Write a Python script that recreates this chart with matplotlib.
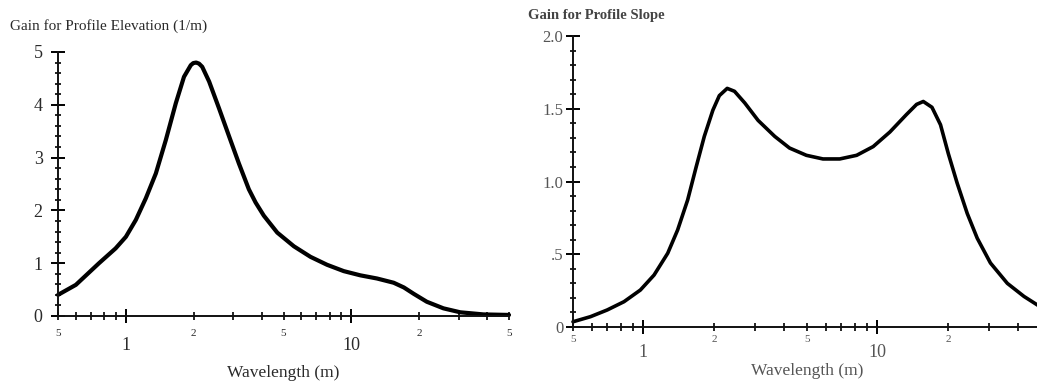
import matplotlib.pyplot as plt

# gain curves read along the wavelength axis (m)
elev_wavelength = [0.5, 0.6, 0.76, 0.9, 1.0, 1.107, 1.226, 1.358, 1.503, 1.665, 1.81, 1.94, 1.99, 2.05,
                   2.11, 2.18, 2.34, 2.59, 2.87, 3.17, 3.51, 3.76, 4.09, 4.69, 5.56, 6.59, 7.8, 9.25,
                   10.96, 13.0, 15.4, 17.1, 18.9, 21.6, 25.6, 30.4, 38.5, 50.0]
elev_gain = [0.40, 0.59, 1.00, 1.28, 1.50, 1.82, 2.23, 2.70, 3.33, 4.03, 4.53, 4.75, 4.79, 4.80,
             4.78, 4.72, 4.44, 3.93, 3.40, 2.89, 2.40, 2.15, 1.90, 1.58, 1.32, 1.12, 0.97, 0.85,
             0.77, 0.71, 0.63, 0.54, 0.42, 0.27, 0.145, 0.07, 0.03, 0.02]

slope_wavelength = [0.5, 0.594, 0.70, 0.826, 0.97, 1.11, 1.27, 1.40, 1.545, 1.68, 1.82, 1.98, 2.11,
                    2.28, 2.45, 2.71, 3.09, 3.64, 4.21, 4.97, 5.85, 6.9, 8.15, 9.59, 11.3, 13.3,
                    14.7, 15.7, 17.1, 18.6, 20.1, 21.9, 24.2, 26.7, 30.4, 35.9, 42.3, 48.4, 50.0]
slope_gain = [0.036, 0.071, 0.117, 0.174, 0.254, 0.357, 0.507, 0.667, 0.873, 1.10, 1.31, 1.49, 1.59,
              1.64, 1.62, 1.54, 1.42, 1.31, 1.23, 1.18, 1.155, 1.155, 1.18, 1.24, 1.34, 1.46,
              1.53, 1.55, 1.51, 1.39, 1.19, 0.99, 0.78, 0.61, 0.44, 0.30, 0.21, 0.15, 0.14]

minor_x = [0.5, 0.6, 0.7, 0.8, 0.9, 2, 3, 4, 5, 6, 7, 8, 9, 20, 30, 40, 50]
elev_minor_labels = ['5', '', '', '', '', '2', '', '', '5', '', '', '', '', '2', '', '', '5']
slope_minor_labels = ['5', '', '', '', '', '2', '', '', '5', '', '', '', '', '2', '', '', '']
major_x = [1, 10]
major_x_labels = ['1', '10']

elev_yticks = [0, 1, 2, 3, 4, 5]
slope_yticks = [0, 0.5, 1.0, 1.5, 2.0]
slope_ylabels = ['0', '.5', '1.0', '1.5', '2.0']

plt.rcParams['font.family'] = ['Liberation Serif', 'DejaVu Serif']

W, H = 1037, 384
fig = plt.figure(figsize=(W / 100, H / 100), dpi=100)


def px_axes(x0, x1, y_top, y_bottom):
    return fig.add_axes([x0 / W, 1 - y_bottom / H, (x1 - x0) / W, (y_bottom - y_top) / H])


def style(ax, color, ymax, yminor_step, minor_labels, major_pad, minor_pad, ypad, ysize, xlabelpad):
    ax.set_xscale('log')
    ax.set_xlim(0.5, 50)
    ax.set_ylim(0, ymax)
    for s in ['top', 'right']:
        ax.spines[s].set_visible(False)
    for s in ['left', 'bottom']:
        ax.spines[s].set_linewidth(1.4)
        ax.spines[s].set_color('#111111')
    ax.set_xticks(major_x, labels=major_x_labels)
    ax.set_xticks(minor_x, labels=minor_labels, minor=True)
    n = int(round(ymax / yminor_step))
    ax.set_yticks([i * yminor_step for i in range(n + 1)], minor=True)
    ax.tick_params(axis='x', which='major', direction='inout', length=10, width=1.4,
                   pad=major_pad, labelsize=13, labelcolor=color)
    ax.tick_params(axis='x', which='minor', direction='inout', length=6, width=1.2,
                   pad=minor_pad, labelsize=8, labelcolor=color)
    ax.tick_params(axis='y', which='major', direction='inout', length=10, width=1.4,
                   pad=ypad, labelsize=ysize, labelcolor=color)
    ax.tick_params(axis='y', which='minor', direction='inout', length=5, width=1.2)
    ax.set_xlabel('Wavelength (m)', fontsize=12.5, color=color, labelpad=xlabelpad)


ax1 = px_axes(58, 509, 52, 316)
ax1.plot(elev_wavelength, elev_gain, color='black', lw=3.0, solid_capstyle='round',
         solid_joinstyle='round', clip_on=False)
ax1.set_yticks(elev_yticks)
style(ax1, '#2a2a2a', 5, 0.2, elev_minor_labels, 10, 6, 6, 13, 8)
fig.text(10 / W, 1 - 26 / H, 'Gain for Profile Elevation (1/m)', fontsize=11, color='#2a2a2a',
         ha='left', va='center')

ax2 = px_axes(573, 1041, 36, 327)
ax2.plot(slope_wavelength, slope_gain, color='black', lw=2.6, solid_capstyle='round',
         solid_joinstyle='round', clip_on=False)
ax2.set_yticks(slope_yticks, labels=slope_ylabels)
style(ax2, '#555555', 2.0, 0.1, slope_minor_labels, 7, 3, 2, 12, 2)
fig.text(528 / W, 1 - 15 / H, 'Gain for Profile Slope', fontsize=10.5, color='#444444',
         ha='left', va='center', fontweight='bold')

fig.savefig('out.png', dpi=100)
